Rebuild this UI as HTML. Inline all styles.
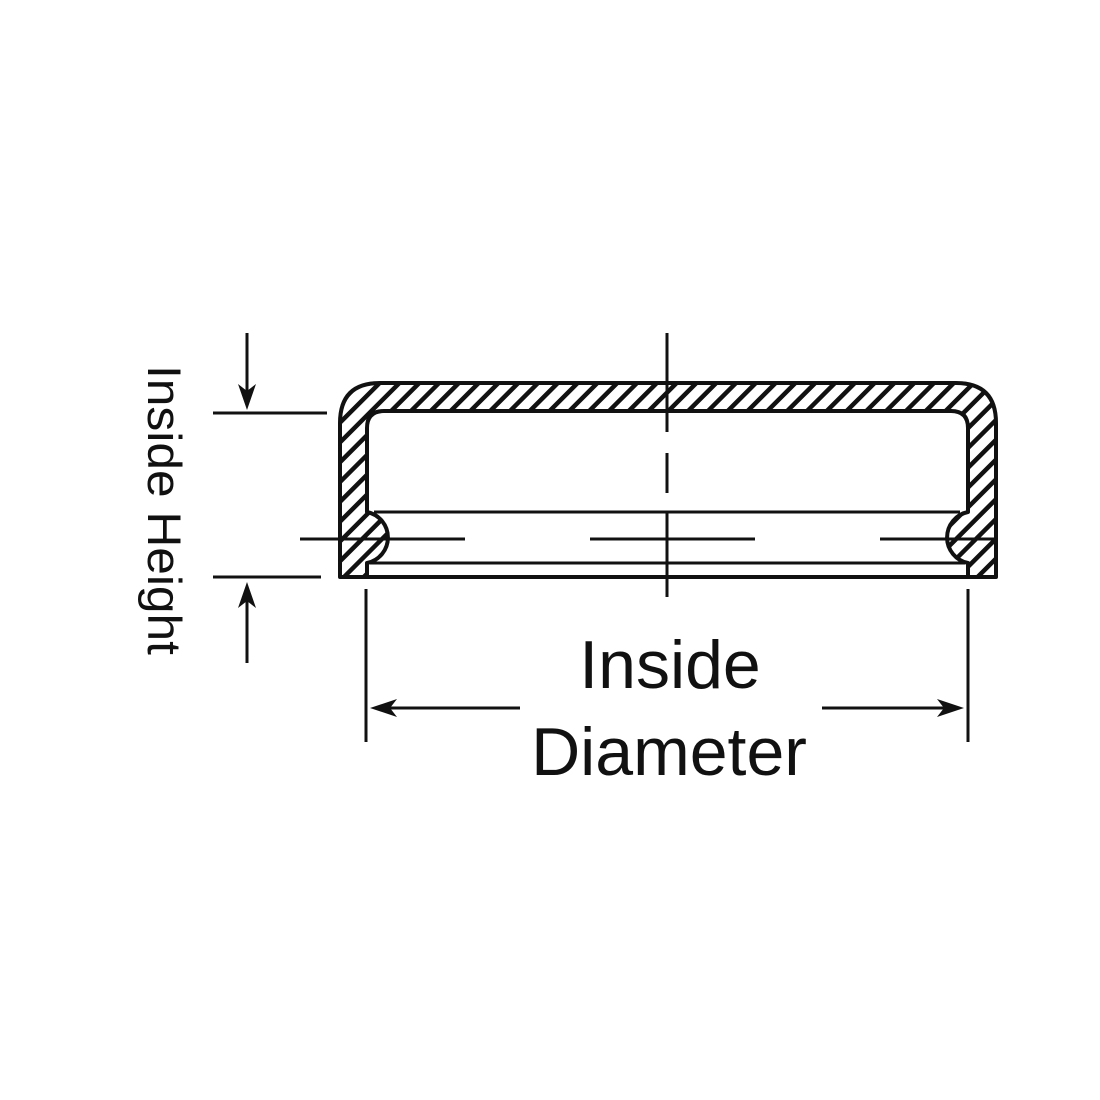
<!DOCTYPE html>
<html><head><meta charset="utf-8"><style>html,body{margin:0;padding:0;background:#fff}svg{display:block}</style></head>
<body>
<svg width="1100" height="1100" viewBox="0 0 1100 1100" xmlns="http://www.w3.org/2000/svg">
<defs>
<pattern id="h" patternUnits="userSpaceOnUse" width="14" height="14" patternTransform="rotate(45)">
<rect width="14" height="14" fill="#fff"/>
<rect x="5" y="0" width="4.5" height="14" fill="#111"/>
</pattern>
</defs>
<path fill="url(#h)" fill-rule="evenodd" stroke="#111" stroke-width="4" stroke-linejoin="round"
d="M340,577 L340,423 Q340,383 380,383 L956,383 Q996,383 996,423 L996,577 Z
M367,577 L367,563 A26,26 0 0 0 367,512 L367,428 Q367,411 384,411 L951,411 Q968,411 968,428 L968,512 A26,26 0 0 0 968,563 L968,577 Z"/>
<g stroke="#111" stroke-width="3" fill="none">
<line x1="374" y1="512" x2="960" y2="512"/>
<line x1="370" y1="563" x2="965" y2="563"/>
<line x1="340" y1="577" x2="996" y2="577"/>
<line x1="667" y1="333" x2="667" y2="432"/>
<line x1="667" y1="453" x2="667" y2="493"/>
<line x1="667" y1="513" x2="667" y2="597"/>
<line x1="300" y1="539" x2="465" y2="539"/>
<line x1="590" y1="539" x2="755" y2="539"/>
<line x1="880" y1="539" x2="996" y2="539"/>
<line x1="213" y1="413" x2="327" y2="413"/>
<line x1="213" y1="577" x2="321" y2="577"/>
<line x1="247" y1="333" x2="247" y2="395"/>
<line x1="247" y1="598" x2="247" y2="663"/>
<line x1="366" y1="589" x2="366" y2="742"/>
<line x1="968" y1="589" x2="968" y2="742"/>
<line x1="385" y1="708" x2="520" y2="708"/>
<line x1="822" y1="708" x2="950" y2="708"/>
</g>
<g fill="#111">
<path d="M247,410 L238,384 L247,391 L256,384 Z"/>
<path d="M247,582 L238,608 L247,601 L256,608 Z"/>
<path d="M370,708 L397,699 L390,708 L397,717 Z"/>
<path d="M964,708 L937,699 L944,708 L937,717 Z"/>
</g>
<g font-family="Liberation Sans, Arial, sans-serif" fill="#111">
<text x="670" y="688" font-size="68" text-anchor="middle">Inside</text>
<text x="669" y="775" font-size="68" text-anchor="middle">Diameter</text>
<text transform="translate(148,365) rotate(90)" x="0" y="0" font-size="47" textLength="290" lengthAdjust="spacingAndGlyphs">Inside Height</text>
</g>
</svg>
</body></html>
